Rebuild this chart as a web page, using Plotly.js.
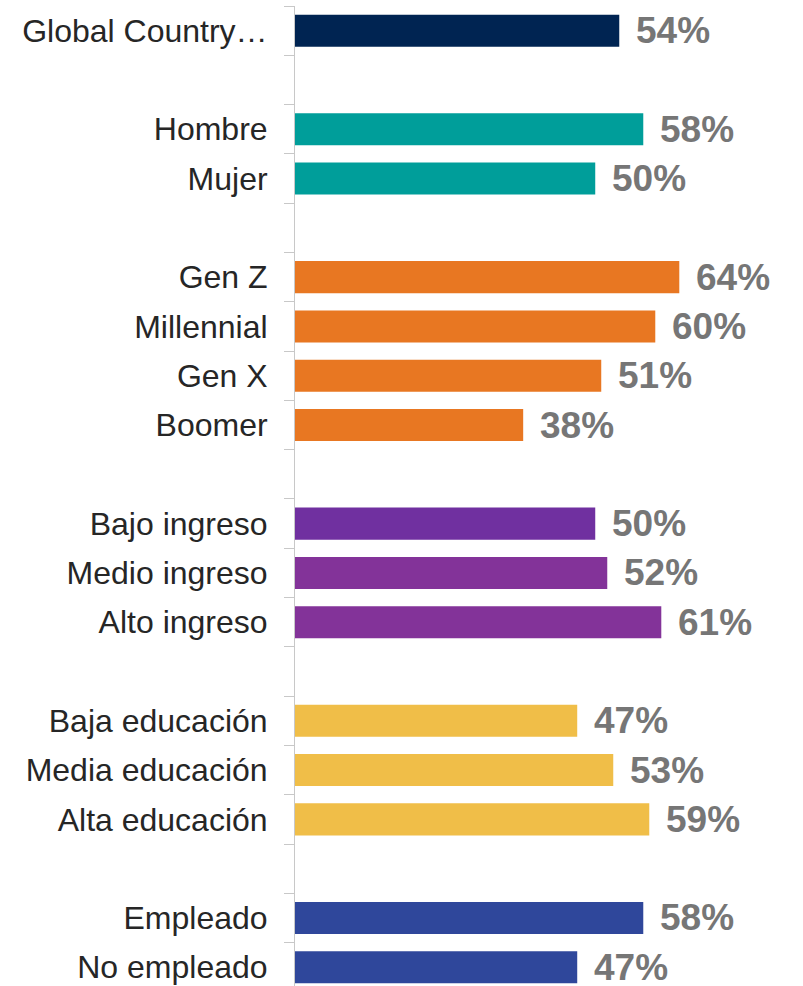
<!DOCTYPE html>
<html>
<head>
<meta charset="utf-8">
<script src="https://cdn.plot.ly/plotly-3.0.1.min.js"></script>
<style>
  html, body { margin: 0; padding: 0; background: #ffffff; }
  #chart { width: 803px; height: 986px; }
</style>
</head>
<body>
<div id="chart"></div>
<script>
// ---- data (groups separated by a blank row) ----
const globalLabels = ["Global Country…"];
const globalValues = [54];
const genderLabels = ["Hombre", "Mujer"];
const genderValues = [58, 50];
const generationLabels = ["Gen Z", "Millennial", "Gen X", "Boomer"];
const generationValues = [64, 60, 51, 38];
const incomeLabels = ["Bajo ingreso", "Medio ingreso", "Alto ingreso"];
const incomeValues = [50, 52, 61];
const educationLabels = ["Baja educación", "Media educación", "Alta educación"];
const educationValues = [47, 53, 59];
const employmentLabels = ["Empleado", "No empleado"];
const employmentValues = [58, 47];

const groupColors = [
  ["#002452"],
  ["#009E9A", "#009E9A"],
  ["#E87722", "#E87722", "#E87722", "#E87722"],
  ["#7030A0", "#833399", "#833399"],
  ["#F0BE48", "#F0BE48", "#F0BE48"],
  ["#2F479B", "#2F479B"]
];

const groups = [
  [globalLabels, globalValues],
  [genderLabels, genderValues],
  [generationLabels, generationValues],
  [incomeLabels, incomeValues],
  [educationLabels, educationValues],
  [employmentLabels, employmentValues]
];

// build category list with blank spacer rows between groups
const cats = [], vals = [], cols = [];
groups.forEach((g, gi) => {
  if (gi > 0) { cats.push(" ".repeat(gi)); vals.push(null); cols.push("#ffffff"); }
  g[0].forEach((lab, i) => { cats.push(lab); vals.push(g[1][i]); cols.push(groupColors[gi][i]); });
});

const annotations = [];
cats.forEach((c, i) => {
  if (vals[i] === null) return;
  annotations.push({
    x: vals[i], y: c, xref: "x", yref: "y",
    text: vals[i] + "%", showarrow: false,
    xanchor: "left", yanchor: "middle", xshift: 15, yshift: 0,
    font: { family: "Liberation Sans, Arial, sans-serif", size: 37, color: "#767676", weight: "bold" }
  });
});

const trace = {
  type: "bar", orientation: "h",
  x: vals, y: cats,
  marker: { color: cols },
  hoverinfo: "skip",
  cliponaxis: false
};

const layout = {
  width: 803, height: 986,
  margin: { l: 295, r: 0, t: 6, b: 0, pad: 0 },
  paper_bgcolor: "#ffffff", plot_bgcolor: "#ffffff",
  showlegend: false,
  bargap: 0.35,
  font: { family: "Liberation Sans, Arial, sans-serif", color: "#262626" },
  xaxis: {
    range: [0, 84.6], visible: false, showgrid: false, zeroline: false, fixedrange: true
  },
  yaxis: {
    type: "category",
    categoryorder: "array", categoryarray: cats,
    range: [19.38, -0.5],
    tickson: "boundaries",
    ticks: "outside", ticklen: 10, tickwidth: 1, tickcolor: "#c8c8c8",
    showline: true, linecolor: "#c8c8c8", linewidth: 1,
    showgrid: false, zeroline: false,
    ticklabelstandoff: 20,
    tickfont: { family: "Liberation Sans, Arial, sans-serif", size: 32, color: "#262626" },
    fixedrange: true
  },
  annotations: annotations
};

Plotly.newPlot("chart", [trace], layout, { displayModeBar: false, staticPlot: true });
</script>
</body>
</html>
